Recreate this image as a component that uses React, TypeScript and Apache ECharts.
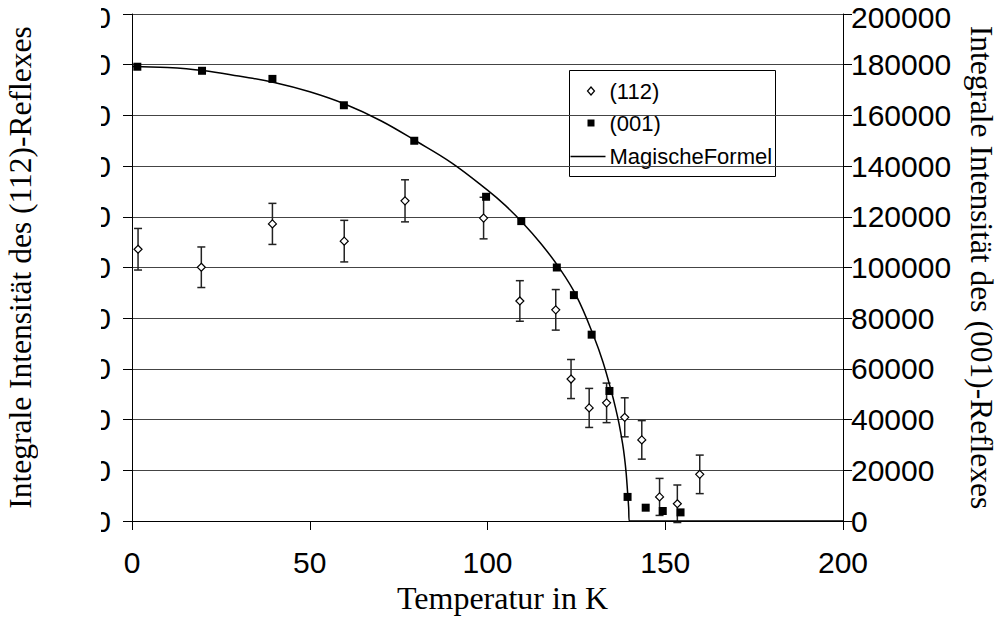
import React, { useEffect, useRef } from "react";
import * as echarts from "echarts";

// Temperatures (K) and integral intensities of the (112) reflexes (left axis) with error bars
const T112 = [1.7, 19.5, 39.5, 59.7, 76.8, 98.9, 109.1, 119.2, 123.5, 128.6, 133.5, 138.6, 143.4, 148.4, 153.4, 159.7];
const I112 = [107.2, 100.1, 117.2, 110.4, 126.3, 119.5, 86.8, 83.3, 56.0, 44.6, 46.6, 40.9, 32.0, 9.5, 6.8, 18.4];
const E112 = [8.2, 8.0, 8.1, 8.2, 8.3, 8.2, 8.0, 8.0, 7.7, 7.7, 7.8, 7.7, 7.6, 7.3, 7.4, 7.6];

// (001) reflexes (right axis)
const T001 = [1.5, 19.7, 39.5, 59.6, 79.4, 99.6, 109.5, 119.5, 124.3, 129.3, 134.3, 139.4, 144.5, 149.3, 154.3];
const I001 = [179200, 177600, 174400, 164000, 150000, 127900, 118300, 100000, 89100, 73500, 51300, 9500, 5250, 3950, 3400];

// "MagischeFormel" curve (right axis)
const TFIT = [0, 10, 20, 30, 40, 50, 60, 70, 80, 90, 100, 105, 110, 115, 120, 125, 130, 132.5, 135, 136, 137, 138, 138.5, 139, 139.4, 139.7, 139.9, 200];
const IFIT = [179300, 178900, 177700, 175500, 173000, 169300, 164400, 157900, 149800, 141200, 130500, 124500, 117500, 109500, 100200, 88800, 72500, 62600, 50300, 44700, 38400, 30500, 25500, 19000, 11500, 5500, 0, 0];

// Axes
const X_MIN = 0, X_MAX = 200, X_STEP = 50;
const L_MIN = 0, L_MAX = 200, L_STEP = 20;
const R_MIN = 0, R_MAX = 200000, R_STEP = 20000;

// Legend entries
const LEGEND_NAMES = ["(112)", "(001)", "MagischeFormel"];

const SANS = "'Liberation Sans', Arial, sans-serif";
const SERIF = "'Liberation Serif', 'Times New Roman', serif";

export default function App() {
  const ref = useRef<HTMLDivElement>(null);
  useEffect(() => {
    if (!ref.current) return;
    const chart = echarts.init(ref.current, null, { renderer: "svg" });
    const tickLabel = { color: "#000", fontFamily: SANS, fontSize: 30 };
    const yRich = {
      n: { color: "#000", fontFamily: SANS, fontSize: 30, lineHeight: 24 },
      t: { color: "#000", fontFamily: SANS, fontSize: 30, lineHeight: 24, padding: [7, 0, 0, 0] },
    };
    const yFmt = (max: number) => (v: number) => (v === max ? `{t|${v}}` : `{n|${v}}`);
    const legText = (i: number, y: number) => ({
      type: "text",
      x: 40,
      y,
      style: {
        text: LEGEND_NAMES[i],
        fill: "#000",
        font: `22px ${SANS}`,
        verticalAlign: "middle",
        align: "left",
      },
    });
    const option: any = {
      animation: false,
      backgroundColor: "#fff",
      grid: { left: 132, right: 157, top: 14, bottom: 97, containLabel: false, outerBoundsMode: "none" },
      xAxis: {
        type: "value",
        min: X_MIN,
        max: X_MAX,
        interval: X_STEP,
        name: "Temperatur in K",
        nameLocation: "middle",
        nameGap: 47,
        nameTextStyle: { color: "#000", fontFamily: SERIF, fontSize: 32, padding: [0, 0, 0, 30] },
        axisLine: { show: true, onZero: false, lineStyle: { color: "#000", width: 1 } },
        axisTick: { show: true, length: 9, lineStyle: { color: "#000" } },
        axisLabel: { ...tickLabel, margin: 26 },
        splitLine: { show: false },
      },
      yAxis: [
        {
          type: "value",
          position: "left",
          min: L_MIN,
          max: L_MAX,
          interval: L_STEP,
          name: "Integrale Intensität des (112)-Reflexes",
          nameLocation: "middle",
          nameGap: 96,
          nameRotate: 90,
          nameTextStyle: { color: "#000", fontFamily: SERIF, fontSize: 31.5 },
          axisLine: { show: true, lineStyle: { color: "#000", width: 1 } },
          axisTick: { show: true, length: 9, lineStyle: { color: "#000" } },
          axisLabel: { ...tickLabel, lineHeight: 24, margin: 21, formatter: yFmt(L_MAX), rich: yRich },
          splitLine: { show: false },
        },
        {
          type: "value",
          position: "right",
          min: R_MIN,
          max: R_MAX,
          interval: R_STEP,
          name: "Integrale Intensität des (001)-Reflexes",
          nameLocation: "middle",
          nameGap: 122,
          nameRotate: -90,
          nameTextStyle: { color: "#000", fontFamily: SERIF, fontSize: 31.5 },
          axisLine: { show: true, lineStyle: { color: "#000", width: 1 } },
          axisTick: { show: true, length: 9, lineStyle: { color: "#000" } },
          axisLabel: { ...tickLabel, lineHeight: 24, margin: 8, formatter: yFmt(R_MAX), rich: yRich },
          splitLine: { show: true, lineStyle: { color: "#444", width: 1 } },
        },
      ],
      graphic: [
        {
          type: "rect",
          z: 100,
          shape: { x: 38, y: 0, width: 63, height: 545 },
          style: { fill: "#fff" },
          silent: true,
        },
        {
          type: "group",
          x: 569.5,
          y: 70.5,
          z: 100,
          silent: true,
          children: [
            { type: "rect", shape: { x: 0, y: 0, width: 206, height: 106 }, style: { fill: "#fff", stroke: "#000", lineWidth: 1 } },
            {
              type: "polygon",
              shape: { points: [[21.5, 16.5], [25, 20.5], [21.5, 24.5], [18, 20.5]] },
              style: { fill: "#fff", stroke: "#000", lineWidth: 1.2 },
            },
            legText(0, 21),
            { type: "rect", shape: { x: 18, y: 49, width: 7, height: 7 }, style: { fill: "#000" } },
            legText(1, 53),
            { type: "line", shape: { x1: 1, y1: 86, x2: 36, y2: 86 }, style: { stroke: "#000", lineWidth: 1.3 } },
            legText(2, 86),
          ],
        },
      ],
      series: [
        {
          name: "err112",
          type: "custom",
          yAxisIndex: 0,
          z: 2,
          data: T112.map((t, i) => [t, I112[i] - E112[i], I112[i] + E112[i]]),
          encode: { x: 0, y: [1, 2] },
          renderItem: (params: any, api: any) => {
            const x = api.value(0);
            const lo = api.coord([x, api.value(1)]);
            const hi = api.coord([x, api.value(2)]);
            const hw = 4;
            const st = { stroke: "#222", lineWidth: 1.5 };
            return {
              type: "group",
              children: [
                { type: "line", shape: { x1: lo[0], y1: lo[1], x2: hi[0], y2: hi[1] }, style: st },
                { type: "line", shape: { x1: lo[0] - hw, y1: lo[1], x2: lo[0] + hw, y2: lo[1] }, style: st },
                { type: "line", shape: { x1: hi[0] - hw, y1: hi[1], x2: hi[0] + hw, y2: hi[1] }, style: st },
              ],
            };
          },
        },
        {
          name: "(112)",
          type: "scatter",
          yAxisIndex: 0,
          z: 3,
          symbol: "diamond",
          symbolSize: 8,
          itemStyle: { color: "#fff", borderColor: "#000", borderWidth: 1.2, opacity: 1 },
          data: T112.map((t, i) => [t, I112[i]]),
        },
        {
          name: "MagischeFormel",
          type: "line",
          yAxisIndex: 1,
          z: 4,
          symbol: "none",
          showSymbol: false,
          smooth: 0.4,
          lineStyle: { color: "#000", width: 1.5 },
          itemStyle: { color: "#000" },
          data: TFIT.map((t, i) => [t, IFIT[i]]),
        },
        {
          name: "(001)",
          type: "scatter",
          yAxisIndex: 1,
          z: 5,
          symbol: "rect",
          symbolSize: 8,
          itemStyle: { color: "#000", opacity: 1 },
          data: T001.map((t, i) => [t, I001[i]]),
        },
      ],
    };
    chart.setOption(option);
    return () => chart.dispose();
  }, []);
  return (
    <div
      ref={ref}
      style={{ position: "absolute", left: 0, top: 0, width: 1000, height: 618, background: "#fff" }}
    />
  );
}
